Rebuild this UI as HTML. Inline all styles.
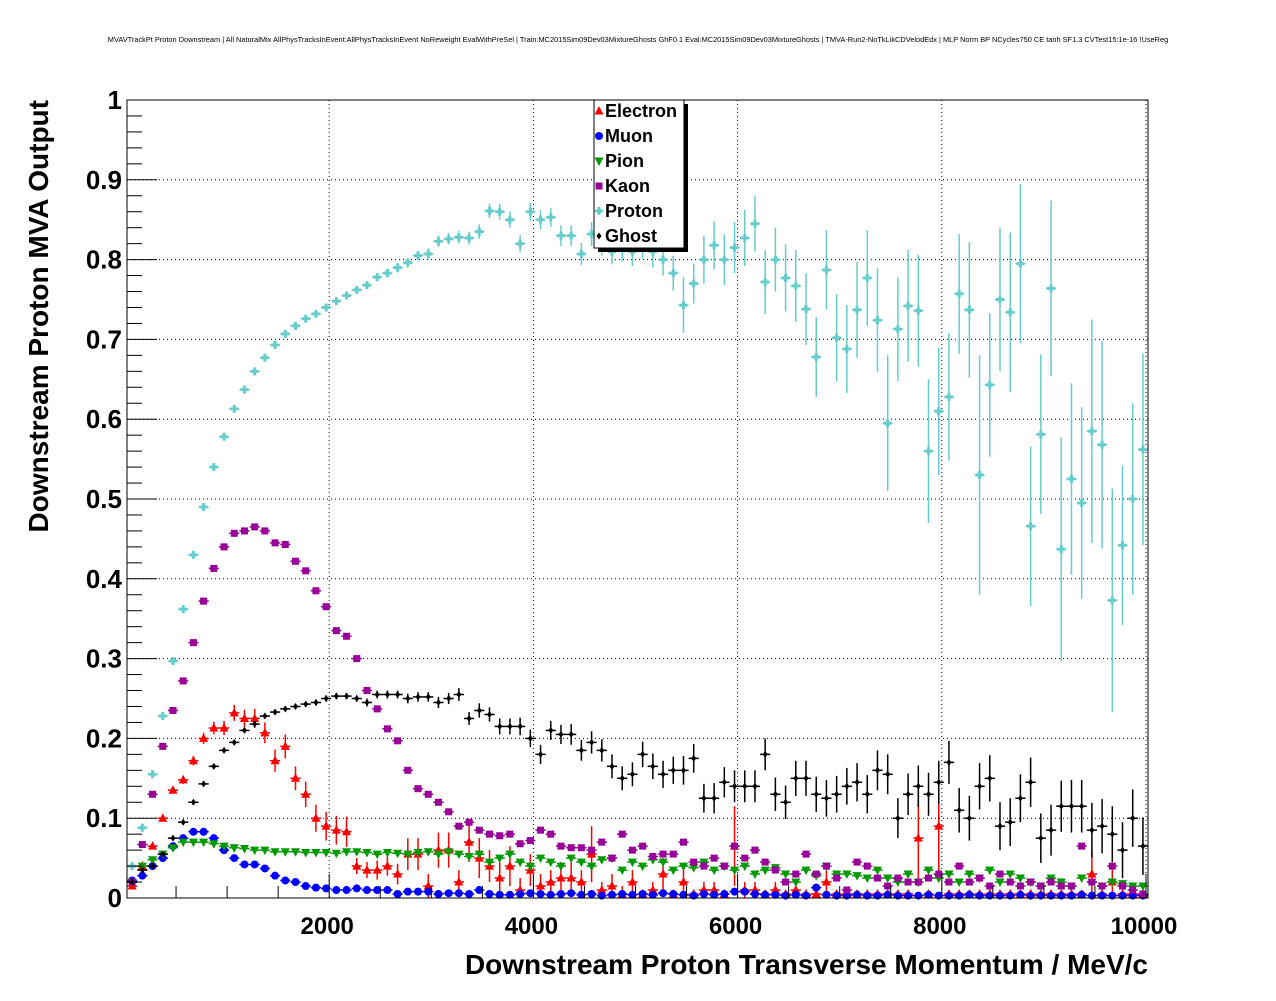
<!DOCTYPE html>
<html><head><meta charset="utf-8"><style>
body{margin:0;background:#fff;}
svg text{font-family:"Liberation Sans",sans-serif;}
</style></head><body>
<svg id="chart" width="1276" height="996" xmlns="http://www.w3.org/2000/svg">
<rect width="1276" height="996" fill="#fff"/>
<text x="638" y="42" font-size="7.4" text-anchor="middle">MVAVTrackPt Proton Downstream | All NaturalMix AllPhysTracksInEvent:AllPhysTracksInEvent NoReweight EvalWithPreSel | Train:MC2015Sim09Dev03MixtureGhosts GhF0.1 Eval:MC2015Sim09Dev03MixtureGhosts | TMVA-Run2-NoTkLikCDVelodEdx | MLP Norm BP NCycles750 CE tanh SF1.3 CVTest15:1e-16 !UseReg</text>
<g id="grid"></g>
<g id="marks"></g>
<rect x="127" y="100" width="1021" height="798" fill="none" stroke="#000" stroke-width="1"/>
<g id="axes"></g>
<text x="1148" y="974" font-size="28" font-weight="bold" text-anchor="end">Downstream Proton Transverse Momentum / MeV/c</text>
<text transform="translate(48,100) rotate(-90)" font-size="28" font-weight="bold" text-anchor="end">Downstream Proton MVA Output</text>
<g id="legend"></g>
</svg>
<script>
const xTicks=[2000,4000,6000,8000,10000];
const yTicks=[0,0.1,0.2,0.3,0.4,0.5,0.6,0.7,0.8,0.9,1];
const yTickLabels=["0","0.1","0.2","0.3","0.4","0.5","0.6","0.7","0.8","0.9","1"];
const binStart=70, binWidth=100;
const proton=[.04,.088,.155,.228,.297,.362,.43,.49,.54,.578,.613,.637,.66,.677,.693,.707,.717,.726,.732,.74,.748,.755,.762,.768,.778,.783,.79,.796,.805,.807,.823,.826,.828,.827,.835,.861,.86,.85,.82,.86,.85,.853,.83,.83,.807,.832,.82,.81,.815,.81,.82,.81,.8,.783,.743,.77,.8,.818,.8,.815,.827,.845,.772,.8,.777,.767,.738,.678,.787,.702,.688,.737,.777,.724,.595,.713,.742,.736,.56,.61,.628,.757,.737,.53,.643,.75,.734,.795,.466,.581,.764,.437,.525,.495,.585,.568,.373,.442,.5,.562];
const protonErr=[.003,.003,.003,.003,.003,.003,.003,.003,.003,.003,.003,.003,.003,.003,.003,.003,.003,.003,.004,.004,.004,.004,.005,.005,.005,.005,.006,.006,.006,.007,.007,.007,.008,.008,.009,.009,.01,.01,.011,.011,.012,.012,.013,.013,.014,.015,.015,.016,.017,.018,.019,.02,.02,.022,.035,.025,.03,.03,.032,.032,.035,.035,.04,.04,.042,.045,.045,.05,.05,.055,.055,.06,.06,.065,.085,.065,.07,.07,.09,.08,.08,.075,.085,.15,.09,.09,.1,.1,.1,.1,.11,.14,.12,.12,.14,.13,.14,.1,.12,.12];
const kaon=[.02,.067,.13,.19,.235,.272,.32,.372,.413,.44,.457,.46,.465,.46,.445,.443,.422,.41,.385,.365,.335,.328,.3,.26,.237,.212,.197,.16,.137,.13,.12,.108,.09,.095,.085,.08,.078,.08,.068,.072,.085,.08,.065,.063,.063,.06,.07,.05,.08,.06,.065,.052,.055,.055,.07,.045,.04,.05,.04,.065,.05,.06,.045,.035,.02,.03,.055,.03,.04,.025,.01,.045,.04,.025,.015,.025,.02,.02,.025,.03,.02,.04,.02,.025,.015,.03,.02,.015,.02,.015,.02,.015,.015,.065,.02,.015,.04,.015,.01,.005];
const ghost=[.02,.035,.04,.055,.075,.095,.12,.143,.165,.185,.195,.21,.218,.228,.233,.237,.24,.243,.245,.25,.253,.253,.25,.245,.255,.255,.255,.25,.252,.252,.245,.25,.255,.225,.235,.23,.215,.215,.215,.2,.18,.21,.205,.205,.185,.195,.185,.165,.15,.155,.18,.165,.155,.16,.16,.175,.125,.125,.145,.14,.14,.14,.18,.13,.12,.15,.15,.13,.125,.13,.14,.145,.13,.16,.155,.1,.13,.14,.13,.145,.17,.11,.1,.14,.15,.09,.095,.125,.145,.075,.085,.115,.115,.115,.085,.09,.08,.06,.1,.065];
const ghostErr=[.002,.002,.002,.002,.002,.002,.002,.002,.002,.002,.003,.003,.003,.003,.003,.003,.003,.003,.004,.004,.004,.004,.004,.005,.005,.005,.005,.006,.006,.006,.007,.007,.008,.008,.009,.009,.01,.01,.011,.011,.012,.012,.012,.013,.013,.014,.014,.015,.015,.015,.016,.016,.017,.017,.018,.018,.018,.019,.019,.02,.02,.02,.02,.021,.021,.022,.022,.022,.023,.023,.023,.024,.024,.025,.025,.025,.026,.026,.027,.027,.027,.028,.028,.029,.029,.03,.03,.03,.031,.031,.032,.032,.033,.033,.034,.034,.035,.035,.036,.036];
const electron=[.015,.04,.065,.1,.135,.148,.172,.2,.213,.213,.232,.225,.225,.207,.172,.19,.15,.13,.1,.09,.085,.083,.04,.035,.035,.04,.03,.055,.055,.015,.06,.06,.02,.07,.05,.04,.025,.04,.01,.035,.015,.02,.025,.025,.02,.055,.01,.015,.005,.02,.005,.01,.03,.005,.02,.005,.01,.01,.005,.065,.01,.01,.005,.01,.005,.01,.005,.005,.02,.005,.005,.005,.005,.005,.005,.005,.005,.075,.005,.09,.005,.005,.005,.005,.005,.005,.005,.005,.005,.005,.005,.005,.005,.005,.03,.005,.02,.005,.005,.005];
const electronErr=[.003,.003,.003,.004,.004,.005,.006,.007,.008,.009,.01,.011,.012,.013,.014,.015,.015,.016,.017,.018,.018,.019,.01,.01,.012,.012,.013,.02,.02,.015,.022,.022,.015,.025,.025,.02,.02,.025,.015,.02,.015,.015,.02,.02,.015,.035,.01,.015,.01,.015,.005,.01,.02,.005,.015,.005,.01,.01,.005,.05,.01,.01,.005,.01,.005,.01,.005,.005,.015,.005,.005,.005,.005,.005,.005,.005,.005,.06,.005,.07,.005,.005,.005,.005,.005,.005,.005,.005,.005,.005,.005,.005,.005,.005,.03,.005,.02,.005,.005,.005];
const muon=[.022,.028,.04,.05,.065,.075,.083,.083,.075,.06,.05,.042,.042,.037,.028,.022,.02,.015,.013,.012,.01,.01,.012,.01,.01,.01,.005,.008,.008,.008,.005,.006,.006,.005,.01,.005,.004,.004,.005,.006,.005,.004,.005,.006,.004,.005,.003,.004,.005,.004,.005,.004,.006,.005,.004,.003,.005,.004,.005,.008,.008,.005,.004,.004,.003,.004,.003,.013,.004,.003,.003,.004,.003,.003,.004,.003,.003,.003,.004,.003,.003,.003,.004,.003,.003,.003,.003,.004,.003,.003,.003,.003,.003,.004,.003,.003,.003,.003,.003,.003];
const pion=[.02,.04,.048,.055,.063,.07,.07,.07,.068,.065,.063,.062,.06,.06,.058,.058,.058,.057,.057,.057,.056,.058,.058,.057,.055,.057,.056,.055,.057,.058,.055,.058,.055,.052,.055,.045,.05,.055,.045,.04,.05,.045,.04,.05,.045,.04,.048,.05,.035,.045,.04,.048,.045,.035,.04,.038,.045,.035,.04,.035,.04,.03,.035,.038,.03,.02,.035,.028,.04,.03,.03,.028,.025,.035,.025,.02,.03,.02,.035,.025,.03,.02,.03,.025,.035,.02,.03,.025,.02,.015,.025,.02,.015,.025,.02,.015,.02,.018,.015,.015];
const smallErr=[.003];

const X0=125,XS=0.1021,Y0=898,YS=798;
const xp=v=>X0+v*XS, yp=v=>Y0-v*YS;
const NS="http://www.w3.org/2000/svg";
function mk(tag,attrs,parent){const e=document.createElementNS(NS,tag);for(const k in attrs)e.setAttribute(k,attrs[k]);parent.appendChild(e);return e;}
const grid=document.getElementById('grid'),axes=document.getElementById('axes'),marks=document.getElementById('marks'),legend=document.getElementById('legend');

xTicks.forEach(t=>{
 const l=mk('line',{x1:xp(t),x2:xp(t),y1:100,y2:898,stroke:'#000','stroke-dasharray':'1,3'},grid);
 
 
 const tx=mk('text',{x:xp(t)-2,y:934,'font-size':24,'font-weight':'bold','text-anchor':'middle'},axes);
 tx.textContent=t;
 
 
});
for(let v=500;v<=10000;v+=500){
 const major=v%2000===0;
 const tk=mk('line',{x1:xp(v),x2:xp(v),y1:898,y2:major?874:886,stroke:'#000'},axes);
 
 
}
yTicks.forEach((t,i)=>{
 if(t>0&&t<1){const l=mk('line',{x1:127,x2:1148,y1:yp(t),y2:yp(t),stroke:'#000','stroke-dasharray':'1,3'},grid);
 
 }
 const tx=mk('text',{x:122,y:yp(t)+9,'font-size':26,'font-weight':'bold','text-anchor':'end'},axes);
 tx.textContent=yTickLabels[i];
 
 
});
for(let k=1;k<50;k++){
 const major=k%5===0;
 const tk=mk('line',{x1:127,x2:major?157:142,y1:yp(k*0.02),y2:yp(k*0.02),stroke:'#000'},axes);
 
 
}

function marker(type,cx,cy,col,g){
 let e;
 if(type==='tri-up') e=mk('polygon',{points:`${cx},${cy-5} ${cx-4.5},${cy+3.5} ${cx+4.5},${cy+3.5}`,fill:col},g);
 else if(type==='tri-down') e=mk('polygon',{points:`${cx},${cy+5} ${cx-4.5},${cy-3.5} ${cx+4.5},${cy-3.5}`,fill:col},g);
 else if(type==='circle') e=mk('circle',{cx:cx,cy:cy,r:4,fill:col},g);
 else if(type==='square') e=mk('rect',{x:cx-3.5,y:cy-3.5,width:7,height:7,fill:col},g);
 else if(type==='cross') e=mk('path',{d:`M${cx-4} ${cy-1.5}h2.5v-2.5h3v2.5h2.5v3h-2.5v2.5h-3v-2.5h-2.5z`,fill:col},g);
 else e=mk('path',{d:`M${cx} ${cy-3.5}L${cx+2.5} ${cy}L${cx} ${cy+3.5}L${cx-2.5} ${cy}z`,fill:col},g);
 return e;
}
const series=[
 {name:'Electron',vals:electron,err:electronErr,col:'#ff0000',m:'tri-up'},
 {name:'Muon',vals:muon,err:smallErr,col:'#0000ff',m:'circle'},
 {name:'Pion',vals:pion,err:smallErr,col:'#009900',m:'tri-down'},
 {name:'Kaon',vals:kaon,err:smallErr,col:'#990099',m:'square'},
 {name:'Proton',vals:proton,err:protonErr,col:'#66cccc',m:'cross'},
 {name:'Ghost',vals:ghost,err:ghostErr,col:'#000000',m:'diamond'}
];
series.forEach(s=>{
 const g=mk('g',{},marks);
 
 
 s.vals.forEach((v,i)=>{
  const x=binStart+i*binWidth, cx=xp(x), cy=yp(v);
  const e=s.err.length>1?s.err[i]:s.err[0];
  mk('line',{x1:xp(x-binWidth*0.5),x2:xp(x+binWidth*0.5),y1:cy,y2:cy,stroke:s.col,'stroke-width':1.5},g);
  mk('line',{x1:cx,x2:cx,y1:yp(v+e),y2:yp(Math.max(0,v-e)),stroke:s.col,'stroke-width':1.5},g);
  const p=marker(s.m,cx,cy,s.col,g);
  
  
 });
});
// legend
mk('rect',{x:598,y:104,width:90,height:148,fill:'#000'},legend);
const box=mk('rect',{x:594,y:100,width:90,height:148,fill:'#fff',stroke:'#000'},legend);


series.forEach((s,i)=>{
 const y=111+i*25;
 const g=mk('g',{},legend);
 
 
 marker(s.m,599,y,s.col,g);
 const t=mk('text',{x:605,y:y+6,'font-size':18,'font-weight':'bold'},g);
 t.textContent=s.name;
});
</script>
</body></html>
